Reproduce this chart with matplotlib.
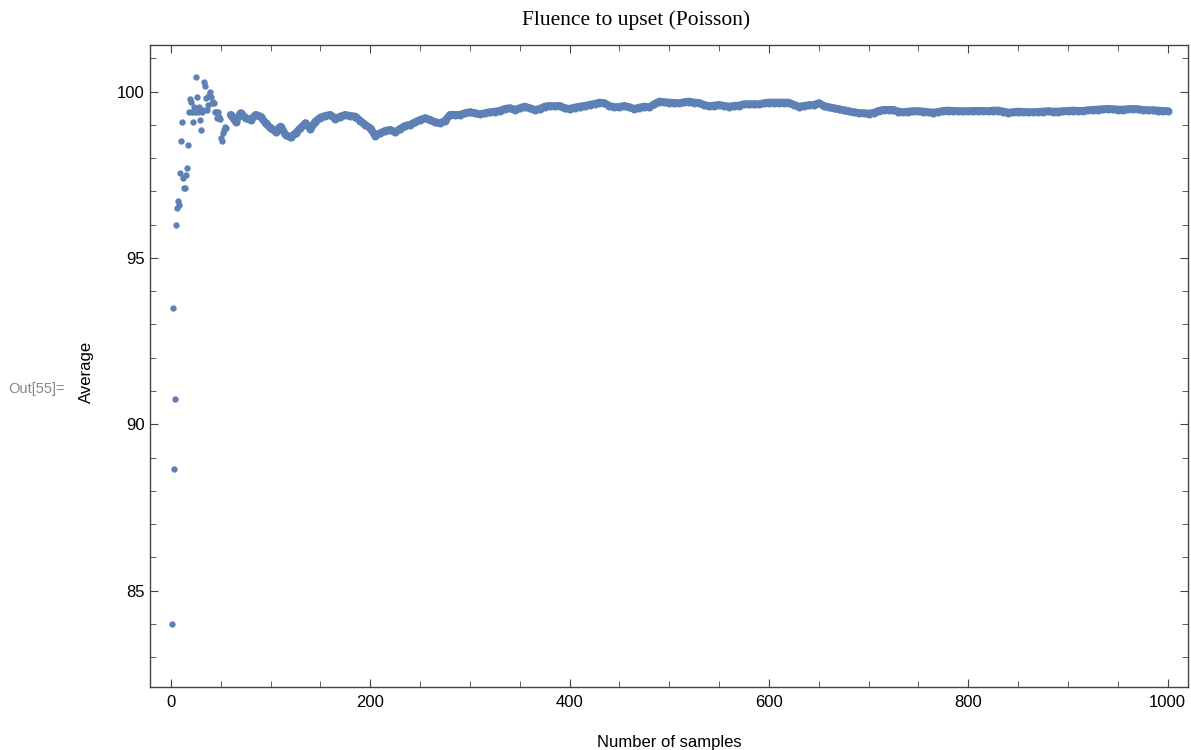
import numpy as np
import matplotlib.pyplot as plt

# running average, first samples one by one
early_n = np.arange(1, 56)
early_avg = [84.0, 93.5, 88.67, 90.75, 96.0, 96.5, 96.7, 96.6, 97.55, 98.5,
             99.1, 97.4, 97.1, 97.1, 97.5, 97.7, 98.4, 99.4, 99.77, 99.68,
             99.38, 99.08, 99.55, 99.38, 100.45, 99.85, 99.38, 99.55, 99.14, 98.85,
             99.38, 99.45, 100.3, 100.18, 99.8, 99.45, 99.6, 99.9, 99.98, 99.85,
             99.65, 99.7, 99.65, 99.38, 99.38, 99.2, 99.38, 99.25, 99.17, 98.6,
             98.5, 98.75, 98.85, 98.95, 98.9]

# later part, read every 5 samples (60 .. 1000)
late_n = np.arange(60, 1001, 5)
late_avg = [99.3, 99.1, 99.35, 99.2, 99.15, 99.3, 99.25, 99.05, 98.9, 98.8,
            98.95, 98.7, 98.62, 98.75, 98.9, 99.05, 98.88, 99.1, 99.22, 99.27,
            99.3, 99.18, 99.25, 99.3, 99.27, 99.25, 99.12, 99.0, 98.9, 98.68,
            98.75, 98.82, 98.85, 98.78, 98.88, 98.97, 99.0, 99.08, 99.15, 99.2,
            99.15, 99.08, 99.05, 99.12, 99.3, 99.3, 99.3, 99.35, 99.38, 99.35,
            99.32, 99.35, 99.38, 99.4, 99.42, 99.48, 99.5, 99.45, 99.5, 99.55,
            99.5, 99.45, 99.48, 99.55, 99.57, 99.56, 99.57, 99.5, 99.48, 99.52,
            99.55, 99.57, 99.6, 99.63, 99.67, 99.65, 99.57, 99.53, 99.54, 99.57,
            99.53, 99.48, 99.52, 99.55, 99.53, 99.62, 99.7, 99.68, 99.67, 99.66,
            99.65, 99.68, 99.7, 99.67, 99.66, 99.6, 99.56, 99.58, 99.6, 99.57,
            99.55, 99.57, 99.58, 99.62, 99.62, 99.62, 99.62, 99.65, 99.67, 99.67,
            99.67, 99.67, 99.67, 99.6, 99.55, 99.57, 99.59, 99.6, 99.65, 99.57,
            99.53, 99.5, 99.47, 99.44, 99.41, 99.38, 99.36, 99.35, 99.34, 99.36,
            99.42, 99.45, 99.45, 99.45, 99.4, 99.38, 99.4, 99.41, 99.41, 99.4,
            99.38, 99.37, 99.39, 99.42, 99.43, 99.42, 99.41, 99.41, 99.41, 99.42,
            99.42, 99.42, 99.41, 99.43, 99.43, 99.4, 99.37, 99.38, 99.4, 99.39,
            99.38, 99.38, 99.39, 99.4, 99.41, 99.4, 99.4, 99.41, 99.42, 99.43,
            99.42, 99.42, 99.44, 99.45, 99.46, 99.47, 99.48, 99.47, 99.46, 99.46,
            99.47, 99.48, 99.47, 99.45, 99.44, 99.44, 99.43, 99.42, 99.41]

x_ticks = [0, 200, 400, 600, 800, 1000]
y_ticks = [85, 90, 95, 100]

frame_col = '#444444'
dot_col = '#5E81B5'

fig = plt.figure(figsize=(11.91, 7.5), dpi=100)
ax = fig.add_axes([150 / 1191, 63.5 / 750, 1038 / 1191, 641.5 / 750])

ax.plot(early_n, early_avg, 'o', ms=4.6, mew=0, color=dot_col)
# dense part: 1000 dots overlap into a band, so join the read points
ax.plot(late_n, late_avg, '-o', lw=5.6, ms=5.8, mew=0, color=dot_col,
        solid_capstyle='round', solid_joinstyle='round')

ax.set_xlim(-21, 1020.5)
ax.set_ylim(82.12, 101.4)
ax.set_xticks(x_ticks)
ax.set_yticks(y_ticks)
ax.set_xticks(np.arange(0, 1001, 50), minor=True)
ax.set_yticks(np.arange(83, 102, 1), minor=True)

for s in ax.spines.values():
    s.set_color(frame_col)
    s.set_linewidth(1.0)
ax.tick_params(which='both', direction='in', top=True, right=True, color=frame_col,
               labelsize=12, labelcolor='black')
ax.tick_params(which='major', length=6)
ax.tick_params(which='minor', length=4.5)
ax.tick_params(axis='y', pad=4)
ax.tick_params(axis='x', pad=6)
for lab in ax.get_xticklabels() + ax.get_yticklabels():
    lab.set_fontfamily('Liberation Sans')

ax.set_xlabel('Number of samples', fontsize=12, family='Liberation Sans')
ax.xaxis.set_label_coords(0.5, -0.0756)
ax.set_ylabel('Average', fontsize=12, family='Liberation Sans')
ax.yaxis.set_label_coords(-0.054, 0.49)

fig.text(0.534, 1 - 20 / 750, 'Fluence to upset (Poisson)', ha='center', va='center',
         fontsize=15.5, family='Liberation Serif')
fig.text(8 / 1191, 1 - 389 / 750, 'Out[55]=', ha='left', va='center',
         fontsize=10.5, color='#888888', family='Liberation Sans')

fig.savefig('out.png', dpi=100)
